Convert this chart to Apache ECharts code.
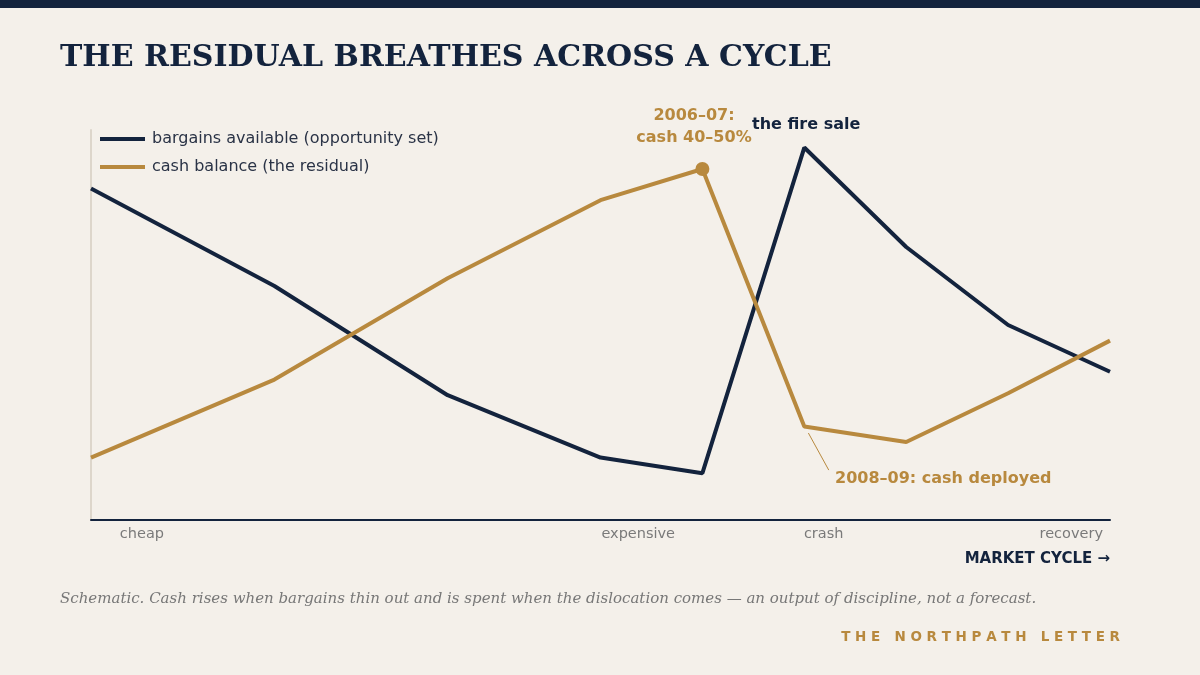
<!DOCTYPE html>
<html>
<head>
<meta charset="utf-8">
<script src="https://cdn.jsdelivr.net/npm/echarts@6/dist/echarts.min.js"></script>
<style>
  html, body { margin: 0; padding: 0; background: #f4f0ea; }
  #chart { width: 1200px; height: 675px; }
</style>
</head>
<body>
<div id="chart"></div>
<script>
// cycle position of each point (x), schematic
const cyclePos = [0, 1.8, 3.5, 5, 6, 7, 8, 9, 10];
const bargains = [85, 60, 32, 16, 12, 95.5, 70, 50, 38];
const cash = [16, 36, 62, 82, 90, 24, 20, 32.5, 46];
// x-axis phase labels
const phasePos = [0.5, 5.37, 7.19, 9.62];
const phaseLabels = ['cheap', 'expensive', 'crash', 'recovery'];

const NAVY = '#13233d';
const GOLD = '#b8893e';
const SANS = 'DejaVu Sans';

const chart = echarts.init(document.getElementById('chart'));

const labelMap = {};
phasePos.forEach((p, i) => { labelMap[p] = phaseLabels[i]; });

chart.setOption({
  backgroundColor: '#f4f0ea',
  animation: false,
  grid: { left: 91, right: 90, top: 130, bottom: 155 },
  legend: {
    left: 95,
    top: 126,
    orient: 'vertical',
    itemWidth: 45,
    itemHeight: 4,
    itemGap: 12,
    icon: 'rect',
    textStyle: { color: '#2a3346', fontSize: 16, fontFamily: SANS, padding: [0, 0, 0, 2] },
    data: ['bargains available (opportunity set)', 'cash balance (the residual)']
  },
  xAxis: {
    type: 'value',
    min: 0,
    max: 10,
    splitLine: { show: false },
    axisLine: { lineStyle: { color: NAVY, width: 2 } },
    axisTick: { show: false },
    axisLabel: {
      customValues: phasePos,
      formatter: v => labelMap[v] || '',
      color: '#7a7a7a',
      fontSize: 14.5,
      fontFamily: SANS,
      margin: 7
    }
  },
  yAxis: {
    type: 'value',
    min: 0,
    max: 100,
    splitLine: { show: false },
    axisLine: { show: true, lineStyle: { color: '#ddd6cb', width: 2 } },
    axisTick: { show: false },
    axisLabel: { show: false }
  },
  series: [
    {
      name: 'bargains available (opportunity set)',
      type: 'line',
      data: cyclePos.map((x, i) => [x, bargains[i]]),
      showSymbol: false,
      lineStyle: { color: NAVY, width: 4 },
      itemStyle: { color: NAVY }
    },
    {
      name: 'cash balance (the residual)',
      type: 'line',
      data: cyclePos.map((x, i) => [x, cash[i]]),
      showSymbol: false,
      lineStyle: { color: GOLD, width: 4 },
      itemStyle: { color: GOLD },
      markPoint: {
        symbol: 'circle',
        symbolSize: 14,
        itemStyle: { color: GOLD },
        label: { show: false },
        data: [{ coord: [cyclePos[4], cash[4]] }]
      },
      markLine: {
        symbol: 'none',
        silent: true,
        lineStyle: { color: GOLD, width: 1, type: 'solid' },
        label: { show: false },
        data: [[{ coord: [7.04, 22.3] }, { coord: [7.24, 12.8] }]]
      }
    }
  ],
  graphic: [
    { type: 'rect', left: 0, top: 0, shape: { width: 1200, height: 8 }, style: { fill: NAVY } },
    {
      type: 'text', left: 60, top: 43,
      style: { text: 'THE RESIDUAL BREATHES ACROSS A CYCLE', fill: NAVY, font: 'bold 30px "DejaVu Serif"' }
    },
    {
      type: 'text', x: 694, y: 105,
      style: { text: '2006–07:\ncash 40–50%', fill: GOLD, font: 'bold 16px "DejaVu Sans"', align: 'center', lineHeight: 22 }
    },
    {
      type: 'text', x: 752, y: 117,
      style: { text: 'the fire sale', fill: NAVY, font: 'bold 16px "DejaVu Sans"' }
    },
    {
      type: 'text', x: 835, y: 471,
      style: { text: '2008–09: cash deployed', fill: GOLD, font: 'bold 16px "DejaVu Sans"' }
    },
    {
      type: 'text', right: 90, top: 552,
      style: { text: 'MARKET CYCLE →', fill: NAVY, font: 'bold 15px "DejaVu Sans"' }
    },
    {
      type: 'text', left: 60, top: 592,
      style: {
        text: 'Schematic. Cash rises when bargains thin out and is spent when the dislocation comes — an output of discipline, not a forecast.',
        fill: '#777777', font: 'italic 15px "DejaVu Serif"'
      }
    },
    {
      type: 'text', right: 80, top: 630,
      style: { text: 'T H E   N O R T H P A T H   L E T T E R', fill: GOLD, font: 'bold 13.5px "DejaVu Sans"' }
    }
  ]
});
</script>
</body>
</html>
